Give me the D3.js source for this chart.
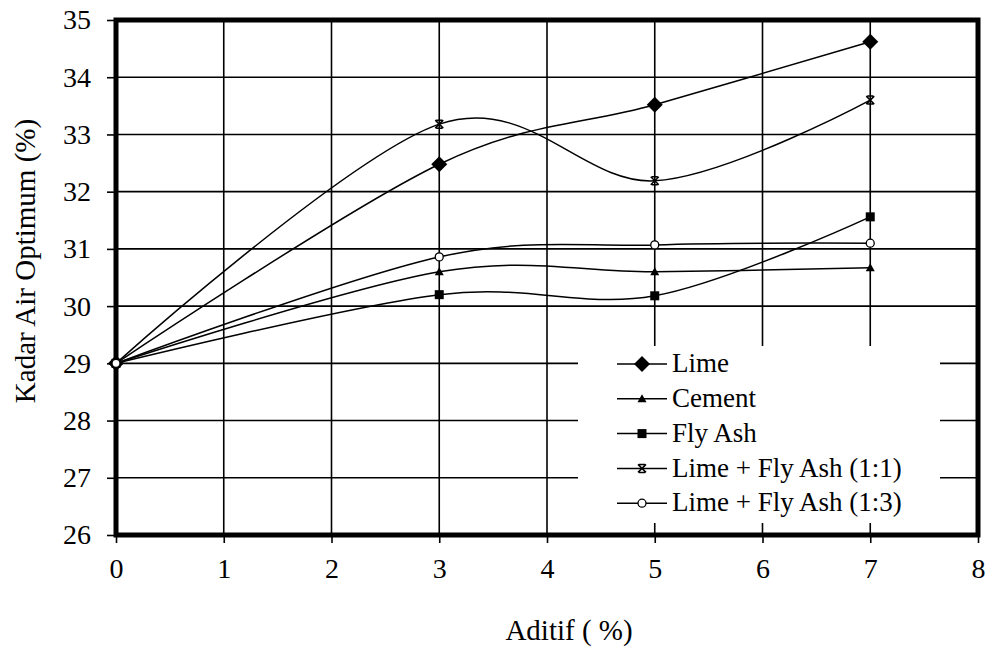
<!DOCTYPE html>
<html>
<head>
<meta charset="utf-8">
<script src="https://cdn.jsdelivr.net/npm/d3@7"></script>
</head>
<body style="margin:0; background:#fff">
<svg id="chart" width="985" height="647"></svg>
<script>
// data
const aditif = [0, 3, 5, 7];
const lime = [29.0, 32.48, 33.52, 34.62];
const cement = [29.0, 30.6, 30.6, 30.67];
const flyAsh = [29.0, 30.2, 30.18, 31.56];
const limeFly11 = [29.0, 33.18, 32.19, 33.6];
const limeFly13 = [29.0, 30.86, 31.07, 31.1];
const seriesNames = ['Lime', 'Cement', 'Fly Ash', 'Lime + Fly Ash (1:1)', 'Lime + Fly Ash (1:3)'];
const xTicks = [0, 1, 2, 3, 4, 5, 6, 7, 8];
const yTicks = [26, 27, 28, 29, 30, 31, 32, 33, 34, 35];

const series = [
  { name: seriesNames[0], values: lime, marker: 'diamond' },
  { name: seriesNames[1], values: cement, marker: 'triangle' },
  { name: seriesNames[2], values: flyAsh, marker: 'square' },
  { name: seriesNames[3], values: limeFly11, marker: 'cross' },
  { name: seriesNames[4], values: limeFly13, marker: 'circle' },
];

const FONT = 'Liberation Serif';
const svg = d3.select('#chart').attr('font-family', FONT);
const plotL = 116, plotR = 978, plotT = 20, plotB = 535;

const x = d3.scaleLinear().domain([0, 8]).range([plotL, plotR]);
const y = d3.scaleLinear().domain([26, 35]).range([plotB, plotT]);

// gridlines
svg.append('g').selectAll('line').data(xTicks.slice(1, -1)).enter().append('line')
  .attr('x1', d => x(d)).attr('x2', d => x(d))
  .attr('y1', plotT).attr('y2', plotB)
  .style('stroke', '#000').style('stroke-width', 1.6);
svg.append('g').selectAll('line').data(yTicks.slice(1, -1)).enter().append('line')
  .attr('x1', plotL).attr('x2', plotR)
  .attr('y1', d => y(d)).attr('y2', d => y(d))
  .style('stroke', '#000').style('stroke-width', 1.6);

// axes
const xAxis = svg.append('g').attr('transform', `translate(0,${plotB})`)
  .call(d3.axisBottom(x).tickValues(xTicks).tickSize(8).tickPadding(15).tickFormat(d3.format('d')));
const yAxis = svg.append('g').attr('transform', `translate(${plotL},0)`)
  .call(d3.axisLeft(y).tickValues(yTicks).tickSize(9).tickPadding(16).tickFormat(d3.format('d')));
[xAxis, yAxis].forEach(a => {
  a.attr('font-family', FONT).attr('font-size', 28);
  a.select('.domain').remove();
  a.selectAll('.tick line').style('stroke', '#000').style('stroke-width', 1.6);
  a.selectAll('.tick text').style('font-family', FONT).style('font-size', '28px').style('fill', '#000');
});

// frame
svg.append('rect')
  .attr('x', plotL).attr('y', plotT)
  .attr('width', plotR - plotL).attr('height', plotB - plotT)
  .style('fill', 'none').style('stroke', '#000').style('stroke-width', 5);

// legend background covers the grid
svg.append('rect')
  .attr('x', 578).attr('y', 346)
  .attr('width', 362).attr('height', 177)
  .style('fill', '#fff');

const line = d3.line()
  .x((d, i) => x(aditif[i]))
  .y(d => y(d))
  .curve(d3.curveCardinal.tension(0));

function marker(g, type, cx, cy) {
  if (type === 'diamond') {
    g.append('path').attr('d', `M${cx},${cy - 8}L${cx + 8},${cy}L${cx},${cy + 8}L${cx - 8},${cy}Z`)
      .style('fill', '#000');
  } else if (type === 'triangle') {
    g.append('path').attr('d', `M${cx},${cy - 4.5}L${cx + 4.5},${cy + 3.5}L${cx - 4.5},${cy + 3.5}Z`)
      .style('fill', '#000');
  } else if (type === 'square') {
    g.append('rect').attr('x', cx - 4.5).attr('y', cy - 4.5).attr('width', 9).attr('height', 9)
      .style('fill', '#000');
  } else if (type === 'cross') {
    g.append('path').attr('d', `M${cx - 4},${cy - 4}L${cx + 4},${cy + 4}M${cx - 4},${cy + 4}L${cx + 4},${cy - 4}M${cx - 3},${cy - 4}L${cx + 3},${cy - 4}M${cx - 3},${cy + 4}L${cx + 3},${cy + 4}`)
      .style('stroke', '#000').style('stroke-width', 1.5).style('fill', 'none');
  } else {
    g.append('circle').attr('cx', cx).attr('cy', cy).attr('r', 4)
      .style('fill', '#fff').style('stroke', '#000').style('stroke-width', 1.3);
  }
}

series.forEach(s => {
  const g = svg.append('g');
  g.append('path').datum(s.values).attr('d', line)
    .style('fill', 'none').style('stroke', '#000').style('stroke-width', 1.5);
  s.values.forEach((v, i) => marker(g, s.marker, x(aditif[i]), y(v)));
});

// legend
const leg = svg.append('g');
series.forEach((s, i) => {
  const ly = 364 + i * 34.8;
  leg.append('line').attr('x1', 617).attr('x2', 667).attr('y1', ly).attr('y2', ly)
    .style('stroke', '#000').style('stroke-width', 1.5);
  marker(leg, s.marker, 642, ly);
  leg.append('text').attr('x', 672).attr('y', ly).attr('dy', '0.3em')
    .style('font-family', FONT).style('font-size', '27px').text(s.name);
});

// axis titles
svg.append('text').attr('x', 569).attr('y', 640).attr('text-anchor', 'middle')
  .style('font-family', FONT).style('font-size', '29px').text('Aditif ( %)');
svg.append('text').attr('transform', 'translate(35,261) rotate(-90)').attr('text-anchor', 'middle')
  .style('font-family', FONT).style('font-size', '29px').text('Kadar Air Optimum (%)');
</script>
</body>
</html>
